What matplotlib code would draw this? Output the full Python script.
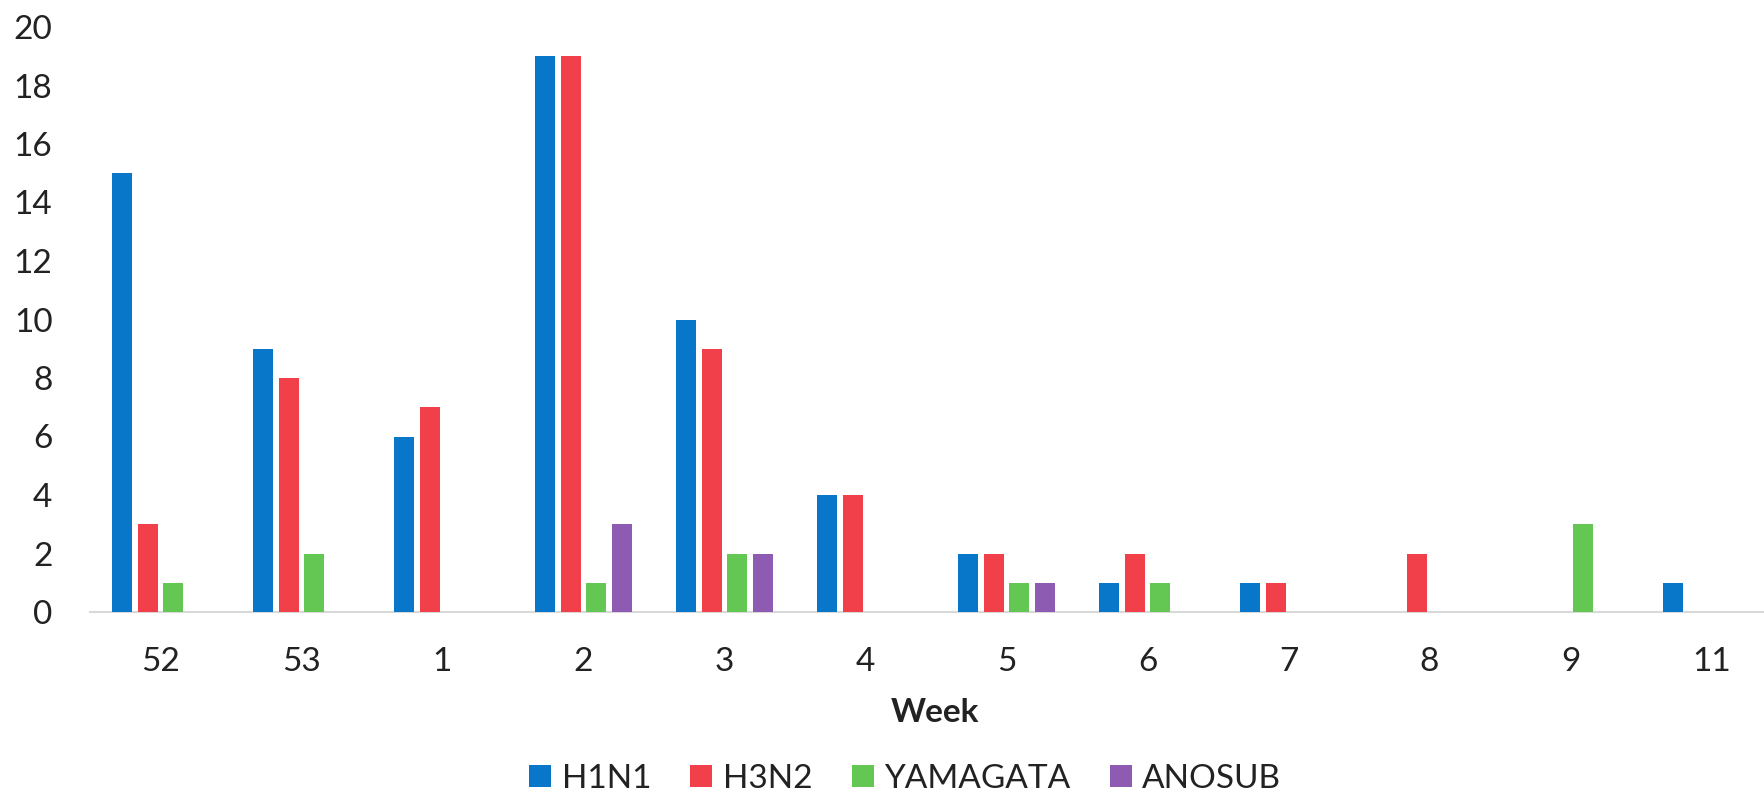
import numpy as np
import matplotlib
matplotlib.use("Agg")
import matplotlib.pyplot as plt
from matplotlib.lines import Line2D

plt.rcParams['font.family'] = ['Lato', 'DejaVu Sans']

weeks = ["52", "53", "1", "2", "3", "4", "5", "6", "7", "8", "9", "11"]
h1n1 = [15, 9, 6, 19, 10, 4, 2, 1, 1, 0, 0, 1]
h3n2 = [3, 8, 7, 19, 9, 4, 2, 2, 1, 2, 0, 0]
yamagata = [1, 2, 0, 1, 2, 0, 1, 1, 0, 0, 3, 0]
anosub = [0, 0, 0, 3, 2, 0, 1, 0, 0, 0, 0, 0]

series_names = ["H1N1", "H3N2", "YAMAGATA", "ANOSUB"]
series_values = [h1n1, h3n2, yamagata, anosub]
colors = ["#0877C9", "#F2404A", "#64C653", "#8D5BB2"]

text_color = "#222222"
W, H = 1765, 796
fig = plt.figure(figsize=(W / 100, H / 100), dpi=100)
ax = fig.add_axes([90 / W, (H - 612) / H, 1692 / W, (612 - 27) / H])

x = np.arange(len(weeks))
slot = 0.181
bar_w = 0.142
for i, (vals, col) in enumerate(zip(series_values, colors)):
    ax.bar(x + (i - 1.5) * slot, vals, width=bar_w, color=col, linewidth=0, zorder=3)

ax.set_xlim(-0.5, len(weeks) - 0.5)
ax.set_ylim(0, 20)
ax.set_yticks(range(0, 21, 2))
ax.set_xticks(x)
ax.set_xticklabels(weeks)

for s in ["top", "right", "left"]:
    ax.spines[s].set_visible(False)
ax.spines["bottom"].set_color("#D9D9D9")
ax.spines["bottom"].set_linewidth(1.5)
ax.spines["bottom"].set_zorder(2)

ax.tick_params(axis="y", length=0, pad=27, labelsize=24, labelcolor=text_color)
ax.tick_params(axis="x", length=0, pad=25, labelsize=24, labelcolor=text_color)

fig.text(935 / W, 1 - 713 / H, "Week", ha="center", va="center",
         fontsize=24, fontweight="bold", color=text_color)

handles = [Line2D([], [], linestyle="none", marker="s", markersize=15.5,
                  markerfacecolor=c, markeredgewidth=0) for c in colors]
fig.legend(handles, series_names, loc="center", ncol=4,
           bbox_to_anchor=(905 / W, 1 - 779 / H), frameon=False,
           fontsize=24, labelcolor=text_color, handlelength=0.7,
           handletextpad=0.3, columnspacing=1.15, borderpad=0, borderaxespad=0)

fig.savefig("out.png", dpi=100, facecolor="white")
